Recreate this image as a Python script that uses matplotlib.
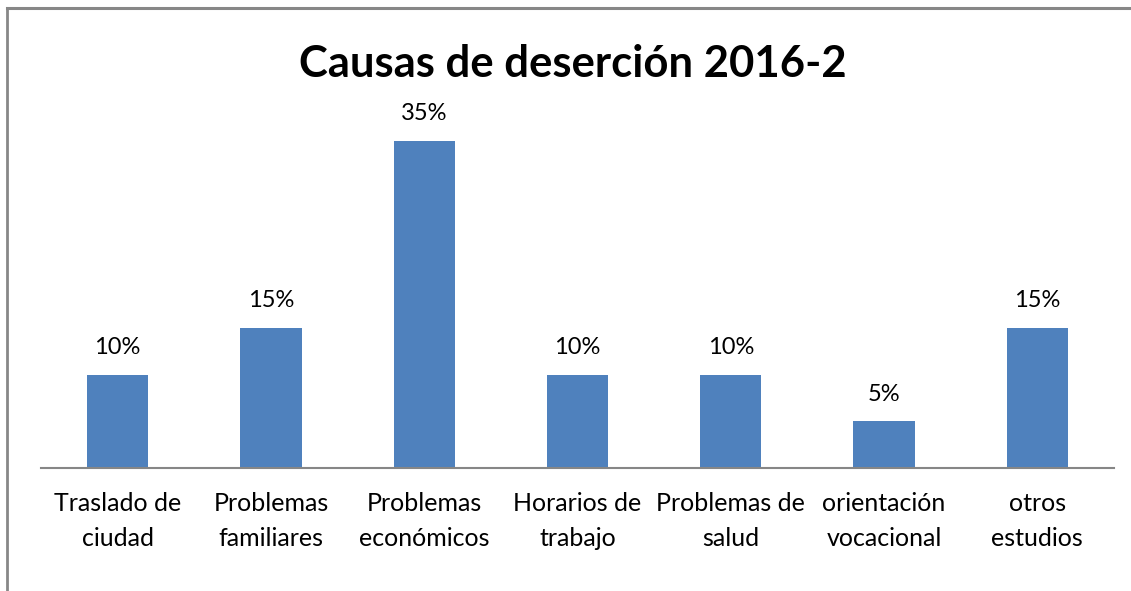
import matplotlib
matplotlib.use("Agg")
import matplotlib.pyplot as plt
from matplotlib.lines import Line2D

categories = ["Traslado de\nciudad", "Problemas\nfamiliares", "Problemas\neconómicos",
              "Horarios de\ntrabajo", "Problemas de\nsalud", "orientación\nvocacional",
              "otros\nestudios"]
values = [0.10, 0.15, 0.35, 0.10, 0.10, 0.05, 0.15]
value_labels = ["10%", "15%", "35%", "10%", "10%", "5%", "15%"]
title = "Causas de deserción 2016-2"

FONT = "Lato"
W, H = 1131, 591
fig = plt.figure(figsize=(W / 100, H / 100), dpi=100)
fig.patch.set_facecolor("white")

# border (top and left only visible)
fig.add_artist(Line2D([7 / W, 7 / W], [0, 1 - 8 / H], color="#878787", lw=2, transform=fig.transFigure))
fig.add_artist(Line2D([7 / W, 1], [1 - 8 / H, 1 - 8 / H], color="#878787", lw=2.2, transform=fig.transFigure))

ax_left, ax_right, ax_bottom_px = 41, 1114, 468
ax_h_px = 374
ax = fig.add_axes([ax_left / W, (H - ax_bottom_px) / H, (ax_right - ax_left) / W, ax_h_px / H])
x = list(range(len(categories)))
ax.bar(x, values, width=0.4, color="#4F81BD")
ax.set_xlim(-0.5, len(categories) - 0.5)
ax.set_ylim(0, 0.40)
for s in ["top", "right", "left"]:
    ax.spines[s].set_visible(False)
ax.spines["bottom"].set_color("#868686")
ax.spines["bottom"].set_linewidth(1.5)
ax.set_yticks([])
ax.set_xticks(x)
ax.set_xticklabels(categories, fontsize=18, family=FONT, linespacing=1.65)
ax.tick_params(axis="x", length=0, pad=17)
for xi, v, lab in zip(x, values, value_labels):
    ax.annotate(lab, (xi, v), xytext=(0, 12), textcoords="offset points",
                ha="center", va="bottom", fontsize=17, family=FONT)

fig.text(573 / W, 1 - 64 / H, title, ha="center", va="center", fontsize=31.4,
         fontweight="bold", family=FONT)

fig.savefig("out.png", dpi=100)
